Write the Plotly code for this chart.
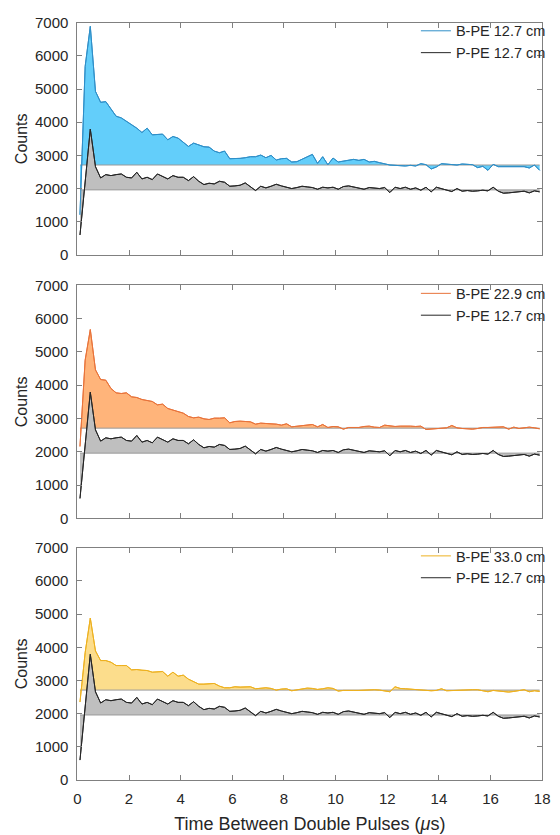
import plotly.graph_objects as go

# ---------------- data ----------------
time_us = [round(0.1 + 0.2 * i, 1) for i in range(90)]  # bin centres (µs)

bpe_127 = [1210, 5680, 6890, 4930, 4600, 4620, 4400, 4180, 4130, 4030,
           3920, 3820, 3690, 3820, 3620, 3630, 3640, 3470, 3570, 3520,
           3390, 3270, 3370, 3310, 3260, 3250, 3130, 3080, 3130, 2900,
           2900, 2910, 2930, 2960, 2960, 3010, 2930, 3000, 2860, 2900,
           2910, 2800, 2810, 2880, 2950, 3030, 2760, 2960, 2720, 2920,
           2800, 2830, 2860, 2880, 2850, 2880, 2800, 2820, 2780, 2740,
           2710, 2700, 2690, 2680, 2700, 2680, 2750, 2720, 2590, 2650,
           2750, 2740, 2730, 2710, 2740, 2730, 2720, 2630, 2670, 2550,
           2730, 2660, 2660, 2670, 2680, 2670, 2660, 2620, 2710, 2550]

bpe_229 = [2160, 4750, 5670, 4460, 4170, 4150, 3900, 3770, 3750, 3770,
           3650, 3630, 3570, 3550, 3510, 3410, 3430, 3300, 3260, 3210,
           3160, 3060, 3020, 3040, 2990, 2970, 3010, 3010, 3020, 2870,
           2910, 2920, 2910, 2900, 2830, 2860, 2850, 2850, 2830, 2800,
           2840, 2750, 2770, 2780, 2790, 2820, 2750, 2820, 2730, 2760,
           2750, 2680, 2730, 2730, 2730, 2760, 2770, 2740, 2730, 2800,
           2770, 2760, 2770, 2780, 2770, 2760, 2770, 2670, 2680, 2700,
           2720, 2720, 2790, 2720, 2700, 2690, 2680, 2700, 2730, 2730,
           2730, 2740, 2750, 2680, 2740, 2700, 2730, 2740, 2720, 2690]

bpe_330 = [2350, 3840, 4880, 3890, 3600, 3600, 3550, 3450, 3450, 3450,
           3320, 3330, 3310, 3300, 3250, 3250, 3270, 3130, 3250, 3130,
           3160, 3040, 2960, 2890, 2890, 2910, 2910, 2830, 2780, 2780,
           2810, 2800, 2800, 2810, 2750, 2770, 2780, 2760, 2710, 2740,
           2750, 2690, 2720, 2740, 2770, 2760, 2730, 2750, 2780, 2760,
           2680, 2700, 2690, 2700, 2700, 2710, 2730, 2720, 2710, 2680,
           2660, 2810, 2760, 2750, 2740, 2720, 2700, 2700, 2690, 2700,
           2750, 2690, 2700, 2700, 2710, 2710, 2720, 2720, 2690, 2660,
           2700, 2690, 2680, 2650, 2670, 2690, 2720, 2660, 2690, 2670]

ppe_127 = [600, 2250, 3790, 2660, 2320, 2420, 2390, 2420, 2440, 2340,
           2320, 2490, 2290, 2340, 2270, 2440, 2370, 2290, 2390, 2340,
           2340, 2240, 2360, 2220, 2120, 2160, 2140, 2220, 2190, 2070,
           2080, 2100, 2170, 2050, 1940, 2070, 2020, 2070, 2130, 2080,
           2050, 2000, 2030, 2070, 2050, 2030, 1980, 2040, 2020, 2040,
           1980, 2060, 2080, 2050, 2020, 1980, 2030, 2020, 2000, 2030,
           1880, 2040, 2000, 2040, 1980, 2020, 1950, 2040, 1900, 2040,
           2000, 1940, 1910, 2000, 1920, 1940, 1920, 1930, 1950, 1930,
           2040, 1920, 1860, 1870, 1890, 1900, 1920, 1870, 1930, 1900]

BASE_B = 2710   # area base value for the B-PE series
BASE_P = 1960   # area base value for the P-PE series

panels = [
    ("B-PE 12.7 cm", bpe_127, "#2F8FC8", "rgb(99,206,250)"),
    ("B-PE 22.9 cm", bpe_229, "#E8733A", "rgb(255,180,122)"),
    ("B-PE 33.0 cm", bpe_330, "#EDB120", "rgb(252,221,140)"),
]
ref_name = "P-PE 12.7 cm"

# ---------------- figure ----------------
W, H = 560, 835
FONT = "Liberation Sans, Arial, Helvetica, sans-serif"
AXCOL = "#808080"
TXTCOL = "#262626"
BASECOL = "#9a9a9a"

x_px = (75, 550)
y_px = [(14, 251), (282, 520), (550, 787)]

fig = go.Figure()
layout = dict(
    width=W, height=H,
    margin=dict(l=0, r=0, t=0, b=0),
    paper_bgcolor="white", plot_bgcolor="white",
    font=dict(family=FONT, size=15, color=TXTCOL),
    showlegend=True,
)

for i, (name, vals, lcol, fcol) in enumerate(panels):
    k = "" if i == 0 else str(i + 1)
    xa, ya = "x" + k, "y" + k
    leg = "legend" + k
    n = len(time_us)
    # coloured area (base line + filled curve)
    fig.add_trace(go.Scatter(x=time_us, y=[BASE_B] * n, xaxis=xa, yaxis=ya,
                             mode="lines", line=dict(color=BASECOL, width=1),
                             showlegend=False, hoverinfo="skip"))
    fig.add_trace(go.Scatter(x=time_us, y=vals, xaxis=xa, yaxis=ya,
                             mode="lines", line=dict(color=lcol, width=1),
                             fill="tonexty", fillcolor=fcol, showlegend=False))
    # grey reference area
    fig.add_trace(go.Scatter(x=time_us, y=[BASE_P] * n, xaxis=xa, yaxis=ya,
                             mode="lines", line=dict(color=BASECOL, width=1),
                             showlegend=False, hoverinfo="skip"))
    fig.add_trace(go.Scatter(x=time_us, y=ppe_127, xaxis=xa, yaxis=ya,
                             mode="lines", line=dict(color="#262626", width=1),
                             fill="tonexty", fillcolor="rgb(191,191,191)", showlegend=False))
    # curve outlines (carry the legend entries as plain lines)
    fig.add_trace(go.Scatter(x=time_us, y=vals, xaxis=xa, yaxis=ya, name=name,
                             mode="lines", line=dict(color=lcol, width=1), legend=leg))
    fig.add_trace(go.Scatter(x=time_us, y=ppe_127, xaxis=xa, yaxis=ya, name=ref_name,
                             mode="lines", line=dict(color="#262626", width=1), legend=leg))

    top, bot = y_px[i]
    common = dict(showline=True, linecolor=AXCOL, linewidth=1, mirror="ticks",
                  ticks="inside", ticklen=5, tickcolor=AXCOL, tickwidth=1,
                  showgrid=False, zeroline=False,
                  tickfont=dict(family=FONT, size=15, color=TXTCOL))
    layout["xaxis" + k] = dict(common, domain=[x_px[0] / W, x_px[1] / W], anchor=ya,
                               range=[0, 18], tickmode="array",
                               tickvals=list(range(0, 19, 2)),
                               showticklabels=(i == 2), ticklabelstandoff=5)
    if i == 2:
        layout["xaxis" + k]["title"] = dict(
            text="Time Between Double Pulses (<i>μ</i>s)",
            font=dict(family=FONT, size=18, color=TXTCOL), standoff=11)
    layout["yaxis" + k] = dict(common, domain=[1 - bot / H, 1 - top / H], anchor=xa,
                               range=[0, 7000], tickmode="array",
                               tickvals=list(range(0, 7001, 1000)),
                               ticklabelstandoff=5,
                               title=dict(text="Counts",
                                          font=dict(family=FONT, size=16, color=TXTCOL),
                                          standoff=3))
    layout[leg] = dict(x=0.998, xanchor="right", y=1 - (top - 8) / H, yanchor="top",
                       bgcolor="rgba(0,0,0,0)", borderwidth=0,
                       font=dict(family=FONT, size=14.5, color=TXTCOL),
                       tracegroupgap=0, itemwidth=30, traceorder="normal")

fig.update_layout(**layout)
fig.write_html("out.html")
